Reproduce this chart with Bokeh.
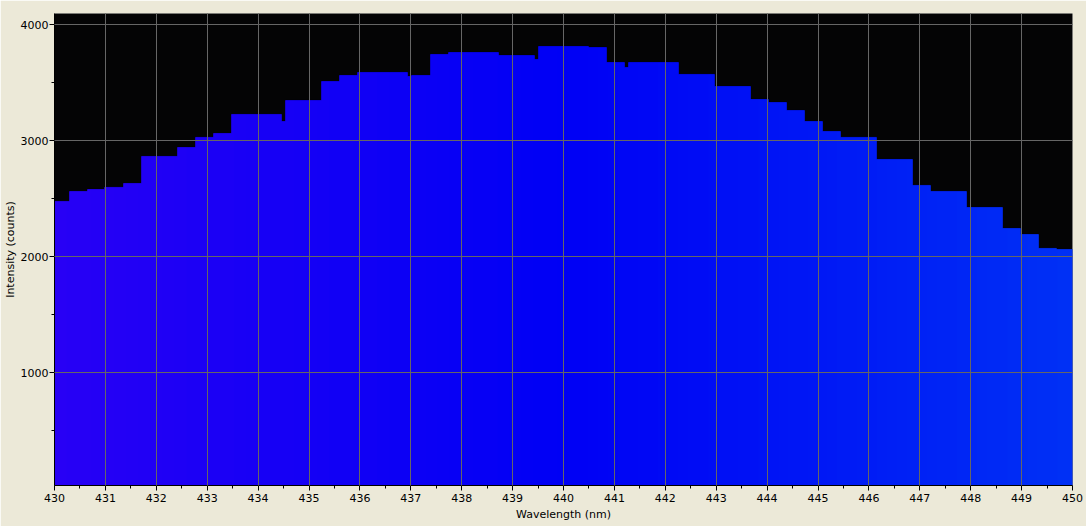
import numpy as np
from bokeh.plotting import figure
from bokeh.models import Range1d, FixedTicker, ColumnDataSource
from bokeh.embed import file_html
from bokeh.resources import INLINE

# Step edges (nm) and the intensity held between consecutive edges (counts)
edges = [430.000, 430.289, 430.643, 430.977, 431.350, 431.704, 432.411, 432.765,
         433.119, 433.473, 434.455, 434.534, 435.241, 435.595, 435.949, 436.932,
         437.010, 437.384, 437.737, 438.720, 439.428, 439.506, 440.489, 440.843,
         441.196, 441.275, 442.258, 442.965, 443.673, 444.027, 444.380, 444.734,
         445.088, 445.442, 446.149, 446.857, 447.210, 447.918, 448.625, 448.979,
         449.333, 449.687, 450.000]
intensity = [2477, 2563, 2580, 2598, 2632, 2865, 2942, 3029, 3063, 3227,
             3166, 3347, 3511, 3563, 3589, 3554, 3563, 3744, 3761, 3735,
             3701, 3813, 3804, 3675, 3632, 3675, 3572, 3468, 3356, 3330,
             3261, 3166, 3080, 3029, 2839, 2615, 2563, 2425, 2244, 2192,
             2072, 2063]

x_ticks = list(range(430, 451))
x_minor = [t + 0.5 for t in range(430, 450)]
y_ticks = [1000, 2000, 3000, 4000]
y_minor = [500, 1500, 2500, 3500]

# split the step curve into thin slices so each can be coloured by wavelength
e = np.array(edges)
v = np.array(intensity)
n = 1018
lefts = e[0] + (e[-1] - e[0]) * np.arange(n) / n
rights = e[0] + (e[-1] - e[0]) * (np.arange(n) + 1) / n
centers = (lefts + rights) / 2
idx = np.clip(np.searchsorted(e, centers, side="right") - 1, 0, len(v) - 1)
tops = v[idx]


def wl_color(lam):
    if lam < 440:
        r, g, b = (440 - lam) / 60.0, 0.0, 1.0
    else:
        r, g, b = 0.0, (lam - 440) / 50.0, 1.0
    return "#%02x%02x%02x" % (int(round(r * 255)), int(round(g * 255)), int(round(b * 255)))


colors = [wl_color(c) for c in centers]
src = ColumnDataSource(dict(left=lefts, right=rights, top=tops,
                            bottom=np.zeros(n), color=colors))

p = figure(width=1086, height=526, output_backend="svg", toolbar_location=None,
           x_range=Range1d(430, 450), y_range=Range1d(28, 4097),
           min_border_left=54, min_border_right=14, min_border_top=13,
           min_border_bottom=41)
p.background_fill_color = "#040405"
p.border_fill_color = "#ece9d8"
p.outline_line_color = None

p.quad(left="left", right="right", top="top", bottom="bottom", source=src,
       fill_color="color", line_color="color", line_width=0.6)

p.xaxis.ticker = FixedTicker(ticks=x_ticks, minor_ticks=x_minor)
p.yaxis.ticker = FixedTicker(ticks=y_ticks, minor_ticks=y_minor)

for ax in (p.xaxis[0], p.yaxis[0]):
    ax.axis_line_color = "black"
    ax.major_tick_line_color = "black"
    ax.minor_tick_line_color = "black"
    ax.major_tick_in = 0
    ax.major_tick_out = 5
    ax.minor_tick_in = 0
    ax.minor_tick_out = 3
    ax.major_label_text_font = "DejaVu Sans"
    ax.major_label_text_font_size = "11px"
    ax.major_label_text_color = "black"
    ax.axis_label_text_font = "DejaVu Sans"
    ax.axis_label_text_font_size = "11px"
    ax.axis_label_text_font_style = "normal"
    ax.axis_label_text_color = "black"

p.xaxis.axis_label = "Wavelength (nm)"
p.yaxis.axis_label = "Intensity (counts)"
p.xaxis.major_label_standoff = 3
p.yaxis.major_label_standoff = 1
p.xaxis.axis_label_standoff = 3
p.yaxis.axis_label_standoff = 1

p.xgrid.ticker = FixedTicker(ticks=list(range(431, 450)))
p.ygrid.ticker = FixedTicker(ticks=y_ticks)
for g in (p.xgrid[0], p.ygrid[0]):
    g.grid_line_color = "#666666"
    g.grid_line_width = 1
    g.level = "overlay"

open("out.html", "w").write(file_html(p, INLINE))
